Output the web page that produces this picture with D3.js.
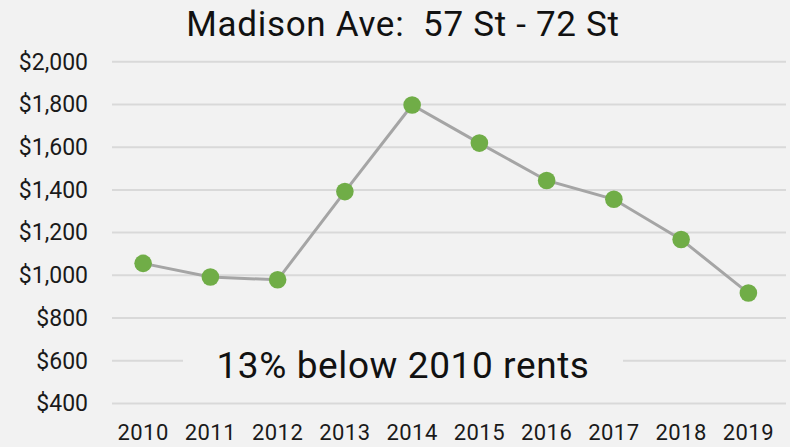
<!DOCTYPE html>
<html lang="en">
<head>
<meta charset="UTF-8">
<title>Madison Ave: 57 St - 72 St</title>
<style>
body { margin: 0; background: #f2f2f2; }
svg { display: block; font-family: Roboto, "Noto Sans", sans-serif; }
.axis .domain, .axis line { display: none; }
</style>
</head>
<body>
<svg width="790" height="447"></svg>
<script src="https://d3js.org/d3.v7.min.js"></script>
<script>

var years = ["2010", "2011", "2012", "2013", "2014", "2015", "2016", "2017", "2018", "2019"];
var rents = [1056, 992, 979, 1392, 1797, 1619, 1444, 1356, 1168, 917];
var yTicks = [400, 600, 800, 1000, 1200, 1400, 1600, 1800, 2000];
var title = "Madison Ave:\u00a0\u00a057 St - 72 St";
var note = "13% below 2010 rents";

var svg = d3.select("svg");

svg.append("rect")
    .attr("width", 790)
    .attr("height", 447)
    .attr("fill", "#f2f2f2");

var x = d3.scaleBand()
    .domain(years)
    .range([109.5, 782]);

var y = d3.scaleLinear()
    .domain([400, 2000])
    .range([403.5, 61.7]);

// gridlines
svg.append("g")
  .selectAll("line")
  .data(yTicks)
  .enter().append("line")
    .attr("x1", 112)
    .attr("x2", 786)
    .attr("y1", function(d) { return y(d); })
    .attr("y2", function(d) { return y(d); })
    .attr("stroke", "#d9d9d9")
    .attr("stroke-width", 2);

// y axis labels
svg.append("g")
    .attr("class", "axis")
    .attr("transform", "translate(94,0)")
    .call(d3.axisLeft(y).tickValues(yTicks).tickSize(0).tickPadding(6).tickFormat(function(d) { return "$" + d3.format(",")(d); }))
    .selectAll("text")
    .attr("font-size", 23)
    .attr("font-family", "Roboto, sans-serif")
    .attr("fill", "#1a1a1a");

// x axis labels
svg.append("g")
    .attr("class", "axis")
    .attr("transform", "translate(0,424)")
    .call(d3.axisBottom(x).tickSize(0).tickPadding(0))
    .selectAll("text")
    .attr("font-size", 22)
    .attr("letter-spacing", 0.4)
    .attr("font-family", "Roboto, sans-serif")
    .attr("fill", "#1a1a1a");

// line
var line = d3.line()
    .x(function(d, i) { return x(years[i]) + x.bandwidth() / 2; })
    .y(function(d) { return y(d); });

svg.append("path")
    .datum(rents)
    .attr("fill", "none")
    .attr("stroke", "#a5a5a5")
    .attr("stroke-width", 3)
    .attr("d", line);

svg.append("g")
  .selectAll("circle")
  .data(rents)
  .enter().append("circle")
    .attr("cx", function(d, i) { return x(years[i]) + x.bandwidth() / 2; })
    .attr("cy", function(d) { return y(d); })
    .attr("r", 8.8)
    .attr("fill", "#70ad47");

// annotation box
svg.append("rect")
    .attr("x", 183)
    .attr("y", 332)
    .attr("width", 440)
    .attr("height", 56)
    .attr("fill", "#f2f2f2");

svg.append("text")
    .attr("x", 403)
    .attr("y", 378)
    .attr("text-anchor", "middle")
    .attr("font-size", 37)
    .attr("letter-spacing", 0.6)
    .attr("fill", "#111")
    .text(note);

svg.append("text")
    .attr("x", 403)
    .attr("y", 36)
    .attr("text-anchor", "middle")
    .attr("font-size", 35)
    .attr("letter-spacing", 0.7)
    .attr("fill", "#111")
    .text(title);

</script>
</body>
</html>
